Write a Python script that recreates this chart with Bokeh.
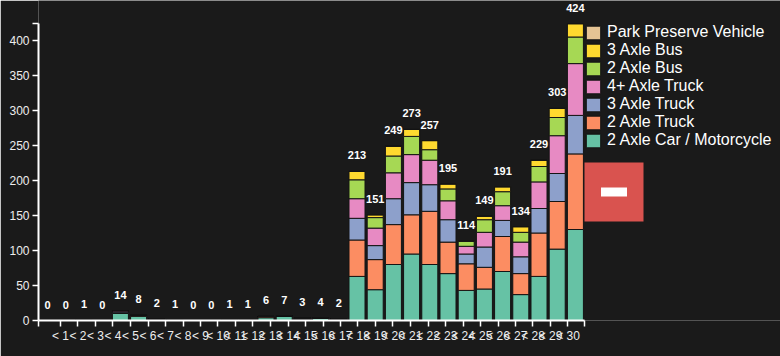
from bokeh.plotting import figure
from bokeh.models import Range1d, FixedTicker, Legend, LegendItem, ColumnDataSource
from bokeh.core.properties import value
from bokeh.embed import file_html
from bokeh.resources import INLINE

# ---------------- data ----------------
days = ["< 1", "< 2", "< 3", "< 4", "< 5", "< 6", "< 7", "< 8", "< 9", "< 10",
        "< 11", "< 12", "< 13", "< 14", "< 15", "< 16", "< 17", "< 18", "< 19", "< 20",
        "< 21", "< 22", "< 23", "< 24", "< 25", "< 26", "< 27", "< 28", "< 29", "< 30"]

series_names = ["2 Axle Car / Motorcycle", "2 Axle Truck", "3 Axle Truck",
                "4+ Axle Truck", "2 Axle Bus", "3 Axle Bus", "Park Preserve Vehicle"]

car_moto = [0, 0, 1, 0, 10, 6, 2, 1, 0, 0, 1, 1, 4, 6, 2, 3, 2,
            63, 44, 80, 95, 80, 67, 43, 45, 70, 37, 63, 102, 130]
truck_2 = [0, 0, 0, 0, 0, 2, 0, 0, 0, 0, 0, 0, 2, 0, 0, 0, 0,
           52, 43, 57, 56, 76, 45, 38, 31, 50, 30, 62, 68, 108]
truck_3 = [0, 0, 0, 0, 2, 0, 0, 0, 0, 0, 0, 0, 0, 1, 1, 1, 0,
           31, 20, 37, 46, 38, 32, 14, 29, 23, 24, 35, 40, 55]
truck_4 = [0, 0, 0, 0, 2, 0, 0, 0, 0, 0, 0, 0, 0, 0, 0, 0, 0,
           28, 25, 37, 40, 35, 27, 11, 21, 21, 21, 38, 54, 74]
bus_2 = [0, 0, 0, 0, 0, 0, 0, 0, 0, 0, 0, 0, 0, 0, 0, 0, 0,
         27, 15, 24, 26, 15, 17, 7, 18, 20, 14, 22, 26, 38]
bus_3 = [0, 0, 0, 0, 0, 0, 0, 0, 0, 0, 0, 0, 0, 0, 0, 0, 0,
         12, 4, 14, 10, 13, 7, 1, 5, 7, 8, 9, 13, 19]
park = [0] * 30

colors = ["#66c2a5", "#fc8d62", "#8da0cb", "#e78ac3", "#a6d854", "#ffd92f", "#e5c494"]

# ---------------- layout constants ----------------
W, H = 780, 356
LEFT, BOTTOM_PAD = 38, 36
BAND_PX = 18.2          # pixels per category band
UNIT_PX = 0.7           # pixels per vehicle
FRAME_W = W - LEFT
FRAME_H = H - BOTTOM_PAD
BG = "#1a1a1a"

n = len(days)
keys = ["s%d" % i for i in range(len(series_names))]
cols = [car_moto, truck_2, truck_3, truck_4, bus_2, bus_3, park]
xs = [i + 0.5 for i in range(n)]
totals = [sum(c[i] for c in cols) for i in range(n)]

data = {"x": xs, "total": totals, "label": [str(t) for t in totals]}
for k, c in zip(keys, cols):
    data[k] = c
source = ColumnDataSource(data)

p = figure(width=W, height=H, output_backend="svg", toolbar_location=None,
           x_range=Range1d(0, FRAME_W / BAND_PX), y_range=Range1d(0, FRAME_H / UNIT_PX),
           min_border_left=LEFT, min_border_right=0, min_border_top=0,
           min_border_bottom=BOTTOM_PAD)
p.background_fill_color = BG
p.border_fill_color = BG
p.outline_line_color = None
p.grid.visible = False

renderers = p.vbar_stack(keys, x="x", width=0.88, source=source,
                         fill_color=colors, line_color="#141414", line_width=1)

p.text(x="x", y="total", text="label", source=source, text_align="center",
       text_baseline="middle", y_offset=-16, text_color="white",
       text_font=value("Liberation Sans"), text_font_size="11px",
       text_font_style="bold")

# ---------------- axes ----------------
first_tick = 22 / BAND_PX
tick_step = 17.5 / BAND_PX
tick_pos = [round(first_tick + i * tick_step, 4) for i in range(n)]
p.xaxis.ticker = FixedTicker(ticks=[0] + tick_pos + [n])
overrides = {0: "", n: ""}
for t, lab in zip(tick_pos, days):
    overrides[t] = lab
p.xaxis.major_label_overrides = overrides
p.xaxis.bounds = (0, n)

y_max = max(totals)
p.yaxis.ticker = FixedTicker(ticks=[0, 50, 100, 150, 200, 250, 300, 350, 400, y_max])
p.yaxis.major_label_overrides = {y_max: ""}
p.yaxis.bounds = (0, y_max)

for ax in (p.xaxis[0], p.yaxis[0]):
    ax.axis_line_color = "white"
    ax.axis_line_width = 2
    ax.major_tick_line_color = "white"
    ax.major_tick_line_width = 1.5
    ax.major_tick_out = 6
    ax.major_tick_in = 0
    ax.minor_tick_line_color = None
    ax.major_label_text_color = "#eeeeee"
    ax.major_label_text_font = "Liberation Sans"
    ax.major_label_standoff = 3
p.yaxis.major_label_text_font_size = "12px"
p.xaxis.major_label_text_font_size = "12px"
p.xaxis.major_label_standoff = 2

# ---------------- legend ----------------
items = [LegendItem(label=name, renderers=[r])
         for name, r in reversed(list(zip(series_names, renderers)))]
legend = Legend(items=items, location=(584 - LEFT, FRAME_H - 149),
                background_fill_alpha=0, border_line_color=None,
                label_text_color="white", label_text_font="Liberation Sans",
                label_text_font_size="16px", glyph_width=18, glyph_height=17,
                label_height=17, spacing=0, padding=0, margin=0, label_standoff=5)
p.add_layout(legend)

# ---------------- collapse button (decoration) ----------------
btn_x = (613.5 - LEFT) / BAND_PX
btn_y = (FRAME_H - 191.5) / UNIT_PX
p.rect(x=[btn_x], y=[btn_y], width=59, height=59, width_units="screen",
       height_units="screen", fill_color="#d9534f", line_color=None)
p.rect(x=[btn_x], y=[btn_y], width=26, height=9, width_units="screen",
       height_units="screen", fill_color="white", line_color=None)

open("out.html", "w").write(file_html(p, INLINE))
